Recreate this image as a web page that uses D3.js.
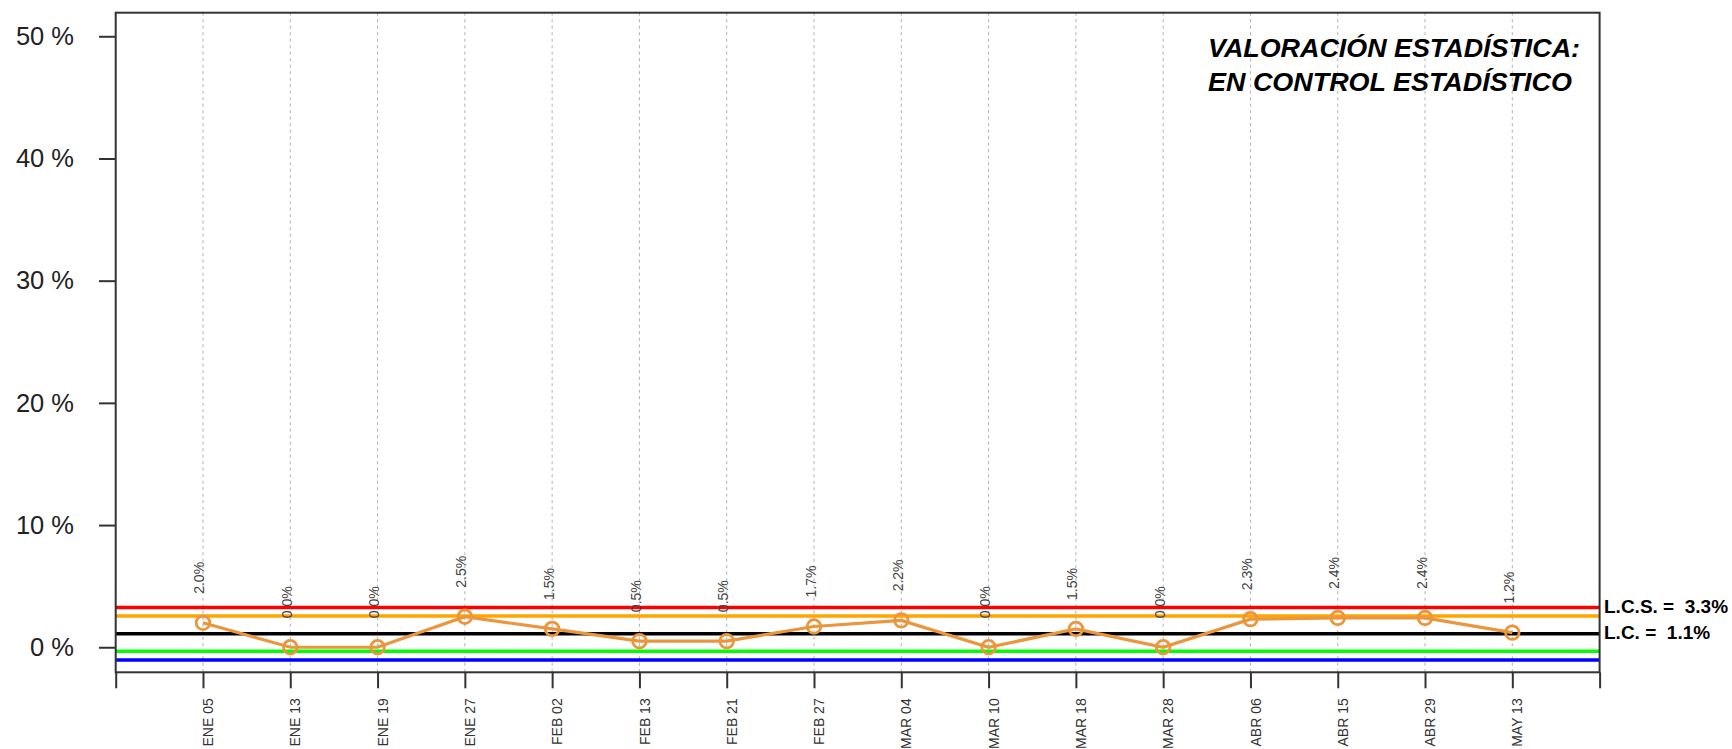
<!DOCTYPE html>
<html>
<head>
<meta charset="utf-8">
<script src="https://cdn.jsdelivr.net/npm/d3@7"></script>
<style>
  html, body { margin: 0; padding: 0; background: #fff; }
  svg { display: block; font-family: "Liberation Sans", Arial, Helvetica, sans-serif; }
</style>
</head>
<body>
<svg id="chart" width="1732" height="749"></svg>
<script>
// ---- data ----
const dates = ["ENE 05","ENE 13","ENE 19","ENE 27","FEB 02","FEB 13","FEB 21","FEB 27",
               "MAR 04","MAR 10","MAR 18","MAR 28","ABR 06","ABR 15","ABR 29","MAY 13"];
const values = [2.0, 0.0, 0.0, 2.5, 1.5, 0.5, 0.5, 1.7, 2.2, 0.0, 1.5, 0.0, 2.3, 2.4, 2.4, 1.2];
const limitNames  = ["LCS", "UPPER2", "LC", "LOWER2", "LCI"];
const limitValues = [3.26, 2.55, 1.11, -0.33, -1.04];
const limitColors = ["#ff0000", "#ffa500", "#000000", "#00ff00", "#0000ff"];
const yTicks = [0, 10, 20, 30, 40, 50];
const titleLines = ["VALORACIÓN ESTADÍSTICA:", "EN CONTROL ESTADÍSTICO"];
const sideLabels = [{ text: "L.C.S. =  3.3%", at: 3.26 }, { text: "L.C. =  1.1%", at: 1.11 }];

// ---- layout ----
const L = 115.7, R = 1599.6, T = 12.7, B = 672.3;
const svg = d3.select("#chart");

const x = d3.scaleLinear().domain([0, dates.length + 1]).range([L, R]);
const y = d3.scaleLinear().domain([-2.05, 51.93]).range([B, T]);

// vertical dashed grid
svg.append("g").selectAll("line").data(dates).join("line")
  .attr("x1", (d, i) => x(i + 1)).attr("x2", (d, i) => x(i + 1))
  .attr("y1", T).attr("y2", B)
  .attr("stroke", "#b0b0b0").attr("stroke-width", 1)
  .attr("stroke-dasharray", "3,3.5");

// control limit lines
svg.append("g").selectAll("line").data(limitValues).join("line")
  .attr("x1", L).attr("x2", R)
  .attr("y1", d => y(d)).attr("y2", d => y(d))
  .attr("stroke", (d, i) => limitColors[i]).attr("stroke-width", 3.5);

// box
svg.append("rect").attr("x", L).attr("y", T).attr("width", R - L).attr("height", B - T)
  .attr("fill", "none").attr("stroke", "#333").attr("stroke-width", 2);

// y axis
const yAxis = svg.append("g").attr("transform", `translate(${L},0)`)
  .call(d3.axisLeft(y).tickValues(yTicks).tickSize(16.7).tickSizeOuter(0).tickFormat(d => d + " %"));
yAxis.select(".domain").remove();
yAxis.selectAll(".tick line").attr("stroke", "#333").attr("stroke-width", 2);
yAxis.selectAll(".tick text").attr("x", -41.7).attr("font-size", 25.5)
  .attr("fill", "#222").attr("font-family", "Liberation Sans, Arial, sans-serif");

// x axis
const xAxis = svg.append("g").attr("transform", `translate(0,${B})`)
  .call(d3.axisBottom(x).tickValues(d3.range(0, dates.length + 2)).tickSize(16).tickSizeOuter(0)
    .tickFormat(i => dates[i - 1] || ""));
xAxis.select(".domain").remove();
xAxis.selectAll(".tick line").attr("stroke", "#333").attr("stroke-width", 2);
xAxis.selectAll(".tick text")
  .attr("transform", "translate(9.6,26) rotate(-90)")
  .attr("x", 0).attr("y", 0).attr("dy", 0)
  .attr("text-anchor", "end")
  .attr("font-size", 14).attr("fill", "#333")
  .attr("font-family", "Liberation Sans, Arial, sans-serif");

// data line
const line = d3.line().x((d, i) => x(i + 1)).y(d => y(d));
svg.append("path").datum(values).attr("d", line)
  .attr("fill", "none").attr("stroke", "#eb963c").attr("stroke-width", 3.2);

// points
svg.append("g").selectAll("circle").data(values).join("circle")
  .attr("cx", (d, i) => x(i + 1)).attr("cy", d => y(d)).attr("r", 6.8)
  .attr("fill", "none").attr("stroke", "#eb963c").attr("stroke-width", 2.8);

// value labels
svg.append("g").selectAll("text").data(values).join("text")
  .attr("transform", (d, i) => `translate(${x(i + 1) + 1.5},${y(d) - 29}) rotate(-90)`)
  .attr("font-size", 14).attr("fill", "#444")
  .text(d => d.toFixed(1) + "%");

// title
const titleWidths = [372, 364];
svg.append("g").selectAll("text").data(titleLines).join("text")
  .attr("x", 1208).attr("y", (d, i) => 57.3 + i * 33.7)
  .attr("text-anchor", "start").attr("font-size", 25)
  .attr("textLength", (d, i) => titleWidths[i]).attr("lengthAdjust", "spacingAndGlyphs")
  .attr("font-weight", "bold").attr("font-style", "italic").attr("fill", "#000")
  .text(d => d);

// side labels
svg.append("g").selectAll("text").data(sideLabels).join("text")
  .attr("x", 1604).attr("y", d => y(d.at) - 1)
  .attr("dominant-baseline", "central")
  .attr("font-size", 19).attr("font-weight", "bold").attr("fill", "#000")
  .style("white-space", "pre")
  .text(d => d.text);
</script>
</body>
</html>
